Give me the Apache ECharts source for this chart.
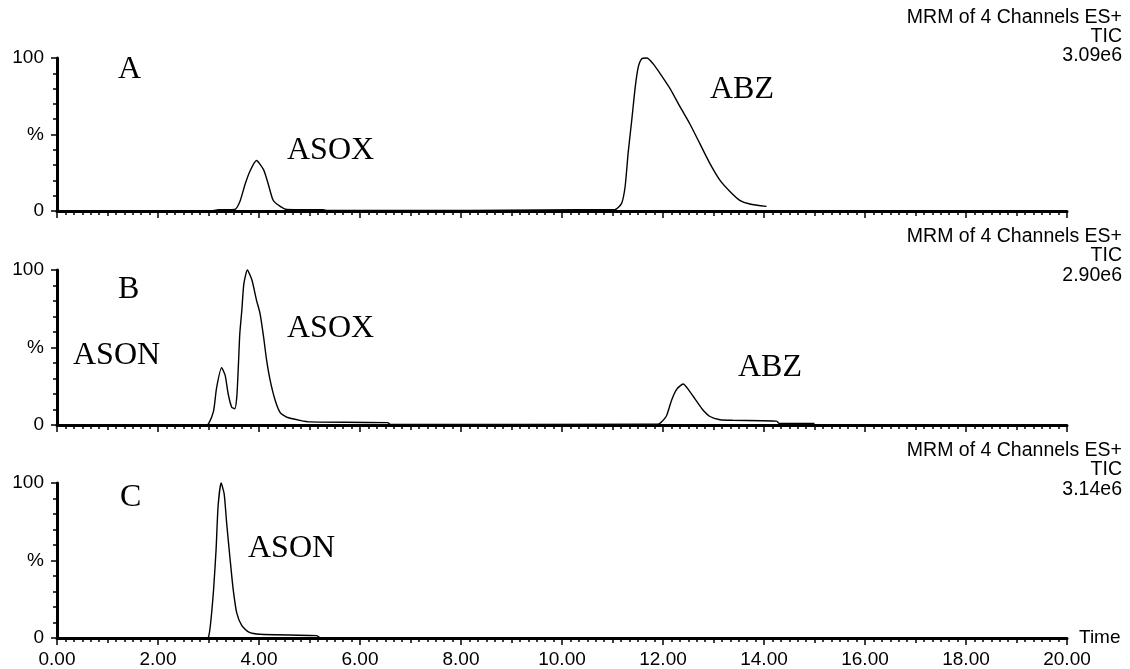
<!DOCTYPE html>
<html>
<head>
<meta charset="utf-8">
<script src="https://cdn.jsdelivr.net/npm/echarts@6/dist/echarts.min.js"></script>
<style>
html,body{margin:0;padding:0;background:#fff;}
#chart{width:1130px;height:669px;}
</style>
</head>
<body>
<div id="chart"></div>
<script>
// ---- data (time in min, relative intensity %) ----
var timeA = [0, 3.0, 3.2, 3.52, 3.62, 3.72, 3.82, 3.95, 4.09, 4.18, 4.28, 4.42, 4.55, 5.27, 5.35, 11.05, 11.18, 11.25, 11.31, 11.38, 11.45, 11.51, 11.58, 11.68, 11.81, 11.94, 12.14, 12.34, 12.53, 12.73, 12.93, 13.13, 13.33, 13.52, 13.72, 14.05];
var valA  = [0, 0, 0.8, 1, 6, 17, 26, 33, 27, 18, 7, 3, 1, 0.8, 0.3, 1, 5, 16, 38, 59, 81, 94, 99.5, 100, 96, 90, 80, 68, 57, 44, 31, 20, 12.6, 7, 4.6, 3];

var timeB = [0, 2.95, 3.0, 3.10, 3.16, 3.26, 3.33, 3.39, 3.46, 3.52, 3.56, 3.59, 3.62, 3.66, 3.70, 3.77, 3.86, 3.95, 4.02, 4.09, 4.15, 4.22, 4.32, 4.42, 4.55, 4.81, 5.01, 6.55, 6.6, 11.9, 11.97, 12.07, 12.17, 12.27, 12.40, 12.50, 12.63, 12.77, 12.93, 13.13, 13.39, 14.25, 14.3, 15.0];
var valB  = [0, 0, 0.7, 9, 24, 37, 32, 20, 11.5, 10.5, 18, 37, 59, 74, 91, 100, 93.5, 80.6, 72, 57, 42, 29, 16, 8, 5, 3, 2, 1.5, 0.3, 0.5, 2, 6, 16, 23, 26.5, 23, 17, 10.5, 5.5, 3.4, 3, 2.5, 1, 1];

var timeC = [0, 2.95, 3.0, 3.04, 3.10, 3.15, 3.19, 3.25, 3.31, 3.36, 3.43, 3.49, 3.56, 3.66, 3.79, 4.02, 5.14, 5.2];
var valC  = [0, 0, 0.6, 9, 31, 57, 85, 100, 93, 74, 50, 31, 16, 8, 4, 2.4, 1.5, 0.3];

var panelLetters = ['A', 'B', 'C'];
var scaleValues = ['3.09e6', '2.90e6', '3.14e6'];
var headerLine1 = 'MRM of 4 Channels ES+';
var headerLine2 = 'TIC';
var yTickLabels = {0: '0', 50: '%', 100: '100'};
var peakLabels = [
  ['ASOX', 'ABZ'],
  ['ASON', 'ASOX', 'ABZ'],
  ['ASON']
];

function zip(t, v) { return t.map(function (x, i) { return [x, v[i]]; }); }

var grids = [
  {left: 57, right: 63, top: 58, height: 153, outerBoundsMode: 'none', containLabel: false},
  {left: 57, right: 63, top: 270, height: 155, outerBoundsMode: 'none', containLabel: false},
  {left: 57, right: 63, top: 483, height: 155, outerBoundsMode: 'none', containLabel: false}
];

var sans = '"Liberation Sans", Arial, sans-serif';
var serif = '"Liberation Serif", "Times New Roman", serif';

var xAxes = [], yAxes = [], series = [];
var datas = [zip(timeA, valA), zip(timeB, valB), zip(timeC, valC)];
grids.forEach(function (g, i) {
  var isBottom = i === 2;
  xAxes.push({
    type: 'value', gridIndex: i, min: 0, max: 20, interval: 2, position: 'bottom',
    axisLine: {show: true, onZero: false, lineStyle: {color: '#000', width: 3}},
    axisTick: {show: true, length: 7, lineStyle: {color: '#000', width: 1.5}},
    minorTick: {show: true, splitNumber: 12, length: 4, lineStyle: {color: '#000', width: 1.5}},
    splitLine: {show: false}, minorSplitLine: {show: false},
    axisLabel: {show: isBottom, color: '#000', fontFamily: sans, fontSize: 19, margin: 12,
      formatter: function (v) { return v.toFixed(2); }},
    name: isBottom ? 'Time' : '', nameLocation: 'end', nameGap: 12,
    nameTextStyle: {color: '#000', fontFamily: sans, fontSize: 19, verticalAlign: 'middle'}
  });
  xAxes.push({
    type: 'value', gridIndex: i, min: 0, max: 20, interval: 1, position: 'bottom', offset: 0,
    axisLine: {show: false},
    axisTick: {show: true, length: 5, lineStyle: {color: '#000', width: 1.5}},
    axisLabel: {show: false}, splitLine: {show: false}
  });
  yAxes.push({
    type: 'value', gridIndex: i, min: 0, max: 100, interval: 50,
    axisLine: {show: true, onZero: false, lineStyle: {color: '#000', width: 3}},
    axisTick: {show: true, length: 6, lineStyle: {color: '#000', width: 1.5}},
    minorTick: {show: true, splitNumber: 5, length: 4, lineStyle: {color: '#000', width: 1.5}},
    splitLine: {show: false},
    axisLabel: {color: '#000', fontFamily: sans, fontSize: 19, margin: 13,
      formatter: function (v) { return yTickLabels[v] !== undefined ? yTickLabels[v] : ''; }}
  });
  series.push({
    type: 'line', xAxisIndex: i * 2, yAxisIndex: i, data: datas[i],
    showSymbol: false, symbol: 'none', smooth: 0.2, clip: false,
    lineStyle: {color: '#000', width: 1.4}, animation: false
  });
});

// header texts (top right of each panel)
var headerY = [[18, 37, 56], [237, 256, 276], [451, 470, 490]];
var graphics = [];
headerY.forEach(function (ys, i) {
  [headerLine1, headerLine2, scaleValues[i]].forEach(function (t, k) {
    graphics.push({type: 'text', x: 1122, y: ys[k], style: {
      text: t, fill: '#000', font: '19.5px ' + sans,
      textAlign: 'right', align: 'right', textVerticalAlign: 'middle', verticalAlign: 'middle'}});
  });
});

// annotations: [text, left x, cap-centre y]
var annot = [
  [panelLetters[0], 118, 70], [peakLabels[0][0], 287, 151], [peakLabels[0][1], 710, 90],
  [panelLetters[1], 118, 290], [peakLabels[1][0], 73, 356], [peakLabels[1][1], 287, 329], [peakLabels[1][2], 738, 368],
  [panelLetters[2], 120, 498], [peakLabels[2][0], 248, 549]
];
annot.forEach(function (a) {
  graphics.push({type: 'text', x: a[1], y: a[2], style: {
    text: a[0], fill: '#000', font: '32px ' + serif,
    textAlign: 'left', align: 'left', textVerticalAlign: 'middle', verticalAlign: 'middle'}});
});

var chart = echarts.init(document.getElementById('chart'), null, {renderer: 'canvas'});
chart.setOption({
  backgroundColor: '#fff',
  animation: false,
  grid: grids,
  xAxis: xAxes,
  yAxis: yAxes,
  series: series,
  graphic: graphics
});
</script>
</body>
</html>
